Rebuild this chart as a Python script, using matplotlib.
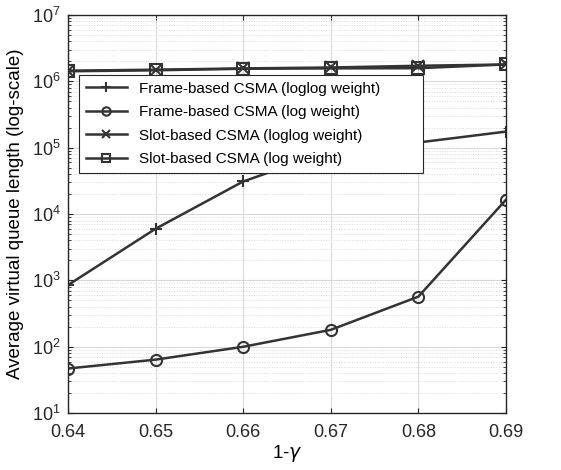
import matplotlib.pyplot as plt
import numpy as np

plt.rcParams['font.family'] = ['Liberation Sans', 'DejaVu Sans']

x = [0.64, 0.65, 0.66, 0.67, 0.68, 0.69]
frame_loglog = [850, 6000, 3.1e4, 9e4, 1.2e5, 1.75e5]
frame_log = [47, 64, 100, 180, 570, 1.65e4]
slot_loglog = [1.45e6, 1.5e6, 1.57e6, 1.62e6, 1.72e6, 1.8e6]
slot_log = [1.42e6, 1.47e6, 1.55e6, 1.57e6, 1.58e6, 1.8e6]
labels = ["Frame-based CSMA (loglog weight)", "Frame-based CSMA (log weight)",
          "Slot-based CSMA (loglog weight)", "Slot-based CSMA (log weight)"]

c = '#333333'
fig = plt.figure(figsize=(5.61, 4.70), dpi=100)
ax = fig.add_axes([0.121, 0.121, 0.781, 0.847])

ax.plot(x, frame_loglog, color=c, lw=1.8, marker='+', ms=9, mew=1.5, label=labels[0])
ax.plot(x, frame_log, color=c, lw=1.8, marker='o', ms=8, mfc='none', mew=1.5, label=labels[1])
ax.plot(x, slot_loglog, color=c, lw=1.8, marker='x', ms=8, mew=1.5, label=labels[2])
ax.plot(x, slot_log, color=c, lw=1.8, marker='s', ms=8, mfc='none', mew=1.5, label=labels[3])

ax.set_yscale('log')
ax.set_xlim(0.64, 0.69)
ax.set_ylim(10, 1e7)
ax.set_xticks(x)
ax.set_xticklabels(["0.64", "0.65", "0.66", "0.67", "0.68", "0.69"])
ax.grid(True, which='major', color='#d9d9d9', lw=0.8)
ax.grid(True, which='minor', color='#d9d9d9', lw=0.7, ls=':')
ax.tick_params(which='both', direction='in', top=True, right=True, labelsize=13, colors='#262626')
ax.tick_params(axis='x', pad=8)
ax.tick_params(axis='y', pad=5)
for s in ax.spines.values():
    s.set_color('#262626')
    s.set_linewidth(1.0)

ax.set_xlabel("1-$\\gamma$", fontsize=13.5, labelpad=1)
ax.set_ylabel("Average virtual queue length (log-scale)", fontsize=13.5, labelpad=6)

leg = ax.legend(loc='upper left', bbox_to_anchor=(0.025, 0.592, 0.785, 0.258),
                mode='expand', borderaxespad=0, fontsize=11, fancybox=False,
                framealpha=1, edgecolor='#262626', handlelength=2.7,
                labelspacing=0.62, markerscale=0.75, borderpad=0.45)
leg.get_frame().set_linewidth(0.8)

plt.savefig("out.png", dpi=100)
